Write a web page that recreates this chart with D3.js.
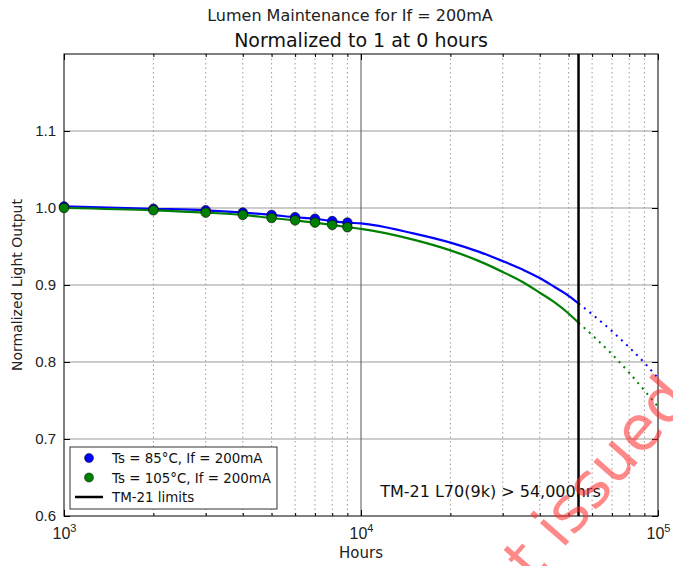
<!DOCTYPE html>
<html>
<head>
<meta charset="utf-8">
<script src="https://cdn.jsdelivr.net/npm/d3@7"></script>
<style>
  body { margin: 0; background: #fff; }
  svg { font-family: "DejaVu Sans", sans-serif; }
</style>
</head>
<body>
<div id="chart"></div>
<script>
// measured hours (markers)
const pointHours = [1000, 2000, 3000, 4000, 5000, 6000, 7000, 8000, 9000];
const blue85Points = [1.002, 0.999, 0.997, 0.994, 0.991, 0.988, 0.986, 0.983, 0.981];
const green105Points = [1.000, 0.997, 0.994, 0.991, 0.987, 0.984, 0.981, 0.978, 0.975];

// TM-21 fit, solid up to the limit
const fitHours = [1000, 2000, 3000, 4000, 5000, 6000, 7000, 8000, 9000, 10000, 15000, 20000, 25000, 30000, 35000, 40000, 45000, 50000, 54000];
const blue85Fit = [1.002, 0.999, 0.997, 0.994, 0.991, 0.988, 0.986, 0.983, 0.981, 0.980, 0.967, 0.955, 0.943, 0.931, 0.920, 0.909, 0.897, 0.886, 0.876];
const green105Fit = [1.000, 0.997, 0.994, 0.991, 0.987, 0.984, 0.981, 0.978, 0.975, 0.973, 0.959, 0.945, 0.931, 0.917, 0.904, 0.890, 0.877, 0.863, 0.851];

// extrapolation past the limit, dotted
const extHours = [54000, 60000, 70000, 80000, 90000, 100000];
const blue85Ext = [0.876, 0.862, 0.840, 0.819, 0.799, 0.779];
const green105Ext = [0.851, 0.835, 0.810, 0.786, 0.763, 0.742];

const tm21Limit = 54000;
const yTicks = [0.6, 0.7, 0.8, 0.9, 1.0, 1.1];
const xMajor = [1000, 10000, 100000];
const xMinor = [2000, 3000, 4000, 5000, 6000, 7000, 8000, 9000,
                20000, 30000, 40000, 50000, 60000, 70000, 80000, 90000];

const W = 673, H = 566;
const margin = {top: 54, right: 15, bottom: 50, left: 64};
const width = W - margin.left - margin.right;
const height = H - margin.top - margin.bottom;

const x = d3.scaleLog().domain([1000, 100000]).range([0, width]);
const y = d3.scaleLinear().domain([0.6, 1.2]).range([height, 0]);

const root = d3.select("#chart").append("svg")
  .attr("width", W).attr("height", H);

root.append("text")
  .attr("x", 350).attr("y", 21)
  .attr("text-anchor", "middle")
  .attr("font-size", 16)
  .attr("fill", "#222")
  .text("Lumen Maintenance for If = 200mA");

root.append("text")
  .attr("x", 361).attr("y", 47)
  .attr("text-anchor", "middle")
  .attr("font-size", 19)
  .attr("fill", "#111")
  .text("Normalized to 1 at 0 hours");

const svg = root.append("g")
  .attr("transform", `translate(${margin.left},${margin.top})`);

// grid
svg.append("g").selectAll("line.minor")
  .data(xMinor).join("line")
  .attr("x1", d => x(d)).attr("x2", d => x(d))
  .attr("y1", 0).attr("y2", height)
  .attr("stroke", "#9a9a9a").attr("stroke-width", 1)
  .attr("stroke-dasharray", "1.5,3");

svg.append("g").selectAll("line.hmajor")
  .data(yTicks.slice(1)).join("line")
  .attr("x1", 0).attr("x2", width)
  .attr("y1", d => y(d)).attr("y2", d => y(d))
  .attr("stroke", "#999").attr("stroke-width", 1.2);

svg.append("line")
  .attr("x1", x(10000)).attr("x2", x(10000))
  .attr("y1", 0).attr("y2", height)
  .attr("stroke", "#555").attr("stroke-width", 1);

// axes, ticks pointing in
const xAxis = svg.append("g")
  .attr("transform", `translate(0,${height})`)
  .call(d3.axisBottom(x).tickValues(xMajor).tickSize(-6).tickPadding(8).tickFormat(""));
xAxis.selectAll(".tick").append("text")
  .attr("y", 23).attr("fill", "#222").attr("font-size", 16)
  .attr("text-anchor", "middle")
  .each(function(d) {
    const t = d3.select(this);
    t.append("tspan").text("10");
    t.append("tspan").attr("dy", -7).attr("font-size", 11).text(Math.round(Math.log10(d)));
  });
svg.append("g").attr("transform", `translate(0,${height})`)
  .call(d3.axisBottom(x).tickValues(xMinor).tickSize(-3).tickFormat(""));
svg.append("g")
  .call(d3.axisTop(x).tickValues(xMajor).tickSize(-6).tickFormat(""));
svg.append("g")
  .call(d3.axisTop(x).tickValues(xMinor).tickSize(-3).tickFormat(""));

svg.append("g")
  .call(d3.axisLeft(y).tickValues(yTicks).tickSize(-6).tickPadding(8).tickFormat(d3.format(".1f")))
  .selectAll("text").attr("font-size", 15).attr("fill", "#222");
svg.append("g").attr("transform", `translate(${width},0)`)
  .call(d3.axisRight(y).tickValues(yTicks).tickSize(-6).tickFormat(""));

svg.selectAll(".domain").remove();
svg.append("rect")
  .attr("width", width).attr("height", height)
  .attr("fill", "none").attr("stroke", "#000").attr("stroke-width", 1);

root.append("text")
  .attr("x", margin.left + width / 2).attr("y", 558)
  .attr("text-anchor", "middle").attr("font-size", 15).attr("fill", "#222")
  .text("Hours");

root.append("text")
  .attr("transform", `translate(22,${margin.top + height / 2}) rotate(-90)`)
  .attr("text-anchor", "middle").attr("font-size", 14).attr("fill", "#222")
  .text("Normalized Light Output");

// series
const line = d3.line().x(d => x(d[0])).y(d => y(d[1]));
const series = [
  {color: "#0000ff", fit: blue85Fit, ext: blue85Ext, pts: blue85Points},
  {color: "#008000", fit: green105Fit, ext: green105Ext, pts: green105Points}
];

series.forEach(s => {
  svg.append("path")
    .datum(fitHours.map((h, i) => [h, s.fit[i]]))
    .attr("fill", "none").attr("stroke", s.color).attr("stroke-width", 2.2)
    .attr("d", line.curve(d3.curveMonotoneX));
  svg.append("path")
    .datum(extHours.map((h, i) => [h, s.ext[i]]))
    .attr("fill", "none").attr("stroke", s.color).attr("stroke-width", 2)
    .attr("stroke-dasharray", "2,5")
    .attr("d", line.curve(d3.curveMonotoneX));
});
series.forEach(s => {
  svg.append("g").selectAll("circle")
    .data(pointHours.map((h, i) => [h, s.pts[i]]))
    .join("circle")
    .attr("cx", d => x(d[0])).attr("cy", d => y(d[1]))
    .attr("r", 4.8)
    .attr("fill", s.color).attr("stroke", "#000").attr("stroke-width", 0.6);
});

// TM-21 limit
svg.append("line")
  .attr("x1", x(tm21Limit)).attr("x2", x(tm21Limit))
  .attr("y1", 0).attr("y2", height)
  .attr("stroke", "#000").attr("stroke-width", 2.5);

svg.append("text")
  .attr("x", x(11600)).attr("y", 443)
  .attr("font-size", 16).attr("fill", "#111")
  .text("TM-21 L70(9k) > 54,000hrs");

// legend
const lg = svg.append("g").attr("transform", "translate(6,393)");
lg.append("rect")
  .attr("width", 207).attr("height", 62)
  .attr("fill", "#fff").attr("stroke", "#333").attr("stroke-width", 1);
const legendItems = [
  {label: "Ts = 85°C, If = 200mA", color: "#0000ff", type: "dot"},
  {label: "Ts = 105°C, If = 200mA", color: "#008000", type: "dot"},
  {label: "TM-21 limits", color: "#000", type: "line"}
];
legendItems.forEach((d, i) => {
  const cy = 11 + i * 19.5;
  if (d.type === "dot") {
    lg.append("circle").attr("cx", 19).attr("cy", cy).attr("r", 4.5)
      .attr("fill", d.color).attr("stroke", "#000").attr("stroke-width", 0.5);
  } else {
    lg.append("line").attr("x1", 5).attr("x2", 33).attr("y1", cy).attr("y2", cy)
      .attr("stroke", "#000").attr("stroke-width", 2.5);
  }
  lg.append("text").attr("x", 42).attr("y", cy + 5)
    .attr("font-size", 13.4).attr("fill", "#111").text(d.label);
});

// watermark
root.append("text")
  .attr("transform", "translate(692,400) rotate(-49)")
  .attr("text-anchor", "end")
  .attr("font-size", 62)
  .attr("fill", "rgba(255,40,40,0.55)")
  .text("Not issued");
</script>
</body>
</html>
